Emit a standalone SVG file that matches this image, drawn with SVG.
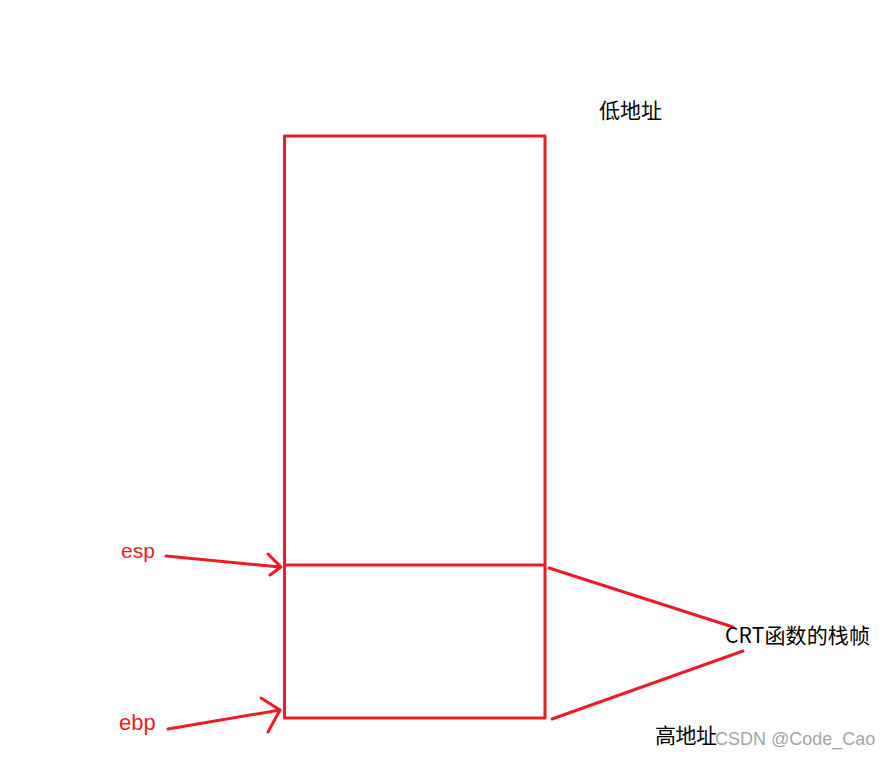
<svg xmlns="http://www.w3.org/2000/svg" width="891" height="757" viewBox="0 0 891 757">
<style>
.r{stroke:#ed1c24;stroke-width:3;fill:none;stroke-linecap:round;stroke-linejoin:round}
.t{font-family:"Microsoft YaHei","Noto Sans CJK SC","Liberation Sans",sans-serif;font-size:21px;fill:#000}
.red{fill:#ed1c24;font-family:"Liberation Sans","Noto Sans CJK SC",sans-serif}
</style>
<rect width="891" height="757" fill="#fff"/>
<g id="stack">
<rect class="r" x="284.5" y="136" width="260.5" height="582"/>
</g>
<g id="crt-frame">
<line class="r" x1="284.5" y1="565" x2="545" y2="565"/>
</g>
<g id="connectors">
<path class="r" d="M166,556 L280,567 M268,554 L281,567 L270,575"/>
<path class="r" d="M168,729 L280,710 M261,698 L280,710 L268,732"/>
<path class="r" d="M549,568 L733,627"/>
<path class="r" d="M552,719 L743,651"/>
</g>
<g id="labels">
<text class="t" x="599" y="118" textLength="63">低地址</text>
<text class="t" x="725" y="643" textLength="145">CRT函数的栈帧</text>
<text class="t" x="655" y="743" textLength="62">高地址</text>
<text x="715" y="745" font-family="Liberation Sans,sans-serif" font-size="18" fill="#999" fill-opacity="0.9">CSDN @Code_Cao</text>
<text class="red" x="121" y="558" font-size="21">esp</text>
<text class="red" x="119" y="730" font-size="22">ebp</text>
</g>
</svg>
